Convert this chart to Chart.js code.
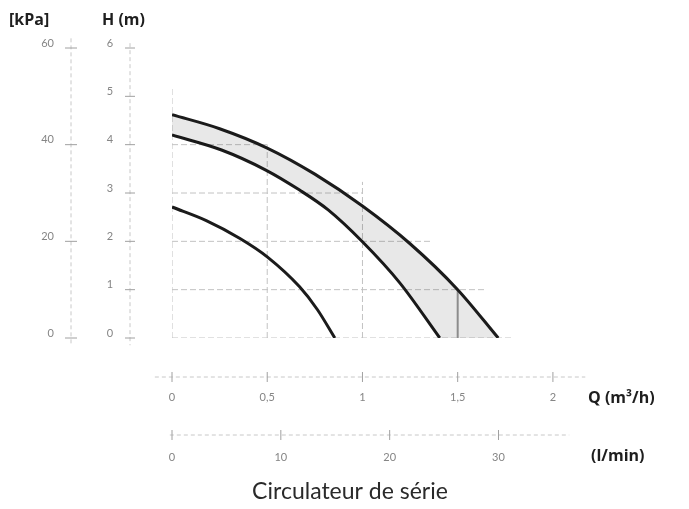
<!DOCTYPE html>
<html>
<head>
<meta charset="utf-8">
<script src="https://cdn.jsdelivr.net/npm/chart.js@4/dist/chart.umd.min.js"></script>
<style>
  html, body { margin: 0; padding: 0; background: #fff; }
</style>
</head>
<body>
<canvas id="myChart" width="689" height="509"></canvas>
<script>
// pump curves, Q in m3/h, H in m
const qUpper = [0, 0.25, 0.5, 0.75, 1.0, 1.25, 1.5, 1.713];
const hUpper = [4.62, 4.33, 3.93, 3.39, 2.73, 1.95, 1.0, 0];
const qMid   = [0, 0.26, 0.49, 0.67, 0.82, 1.0, 1.196, 1.406];
const hMid   = [4.2, 3.89, 3.48, 3.06, 2.65, 1.99, 1.14, 0];
const qLow   = [0, 0.18, 0.357, 0.5, 0.67, 0.763, 0.855];
const hLow   = [2.71, 2.43, 2.06, 1.68, 1.06, 0.59, 0];

// partial grid lines
const gridH    = [1, 2, 3, 4];
const gridHEnd = [1.65, 1.37, 1.0, 0.5];
const gridQ    = [0, 0.5, 1.0];
const gridQEnd = [5.2, 4.0, 3.23];
const markQ = 1.5, markQEnd = 1.0;

// axis ticks
const kpaTicks  = [0, 20, 40, 60];
const hTicks    = [0, 1, 2, 3, 4, 5, 6];
const qTicks    = [0, 0.5, 1, 1.5, 2];
const qLabels   = ['0', '0,5', '1', '1,5', '2'];
const lminTicks = [0, 10, 20, 30];

const pts = (xs, ys) => xs.map((x, i) => ({x: x, y: ys[i]}));

const curve = (xs, ys) => ({
    data: pts(xs, ys),
    borderColor: '#1b1b1b',
    borderWidth: 3,
    pointRadius: 0,
    cubicInterpolationMode: 'monotone',
    fill: false
});

const gridLine = (data, color, width, dash) => ({
    data: data,
    borderColor: color,
    borderWidth: width,
    borderDash: dash,
    pointRadius: 0,
    tension: 0,
    fill: false
});

// lower edge of the shaded band: the middle curve carried on a little below H = 0
// (hidden by the chart area clip) and then across to the end of the upper curve
const n = qMid.length;
const drop = 0.3;
const tailQ = qMid[n - 1] + drop * (qMid[n - 1] - qMid[n - 2]) / (hMid[n - 2] - hMid[n - 1]);
const bandEdge = pts(qMid, hMid).concat([
    {x: tailQ, y: -drop},
    {x: qUpper[qUpper.length - 1] + 0.05, y: -drop}
]);

const datasets = [];
const upper = curve(qUpper, hUpper);
upper.fill = 3;
upper.backgroundColor = 'rgba(0,0,0,0.09)';
datasets.push(upper);
datasets.push(curve(qMid, hMid));
datasets.push(curve(qLow, hLow));
datasets.push({
    data: bandEdge,
    borderColor: 'transparent',
    pointRadius: 0,
    cubicInterpolationMode: 'monotone',
    fill: false
});
gridH.forEach((h, i) => {
    datasets.push(gridLine([{x: 0, y: h}, {x: gridHEnd[i], y: h}], '#c2c2c2', 1, [6, 3]));
});
gridQ.forEach((q, i) => {
    datasets.push(gridLine([{x: q, y: 0}, {x: q, y: gridQEnd[i]}], '#c2c2c2', 1, [6, 3]));
});
datasets.push(gridLine([{x: 0, y: 0}, {x: 1.78, y: 0}], '#c2c2c2', 1, [6, 3]));
datasets.push(gridLine([{x: markQ, y: 0}, {x: markQ, y: markQEnd}], '#9a9a9a', 2, []));

const pumpAxes = {
    id: 'pumpAxes',
    afterDraw(chart) {
        const ctx = chart.ctx;
        const qs = chart.scales.x, hs = chart.scales.y;
        const ks = chart.scales.kpa, ls = chart.scales.lmin;
        const kx = 71, hx = 130, qy = 377, ly = 435;

        const seg = (x1, y1, x2, y2) => {
            ctx.beginPath(); ctx.moveTo(x1, y1); ctx.lineTo(x2, y2); ctx.stroke();
        };

        ctx.save();
        // axis lines
        ctx.strokeStyle = '#c8c8c8';
        ctx.lineWidth = 1;
        ctx.setLineDash([4, 3]);
        seg(kx, ks.getPixelForValue(62), kx, ks.getPixelForValue(-1.5));
        seg(hx, hs.getPixelForValue(6.1), hx, hs.getPixelForValue(-0.15));
        seg(qs.getPixelForValue(-0.09), qy, qs.getPixelForValue(2.17), qy);
        seg(ls.getPixelForValue(-0.2), ly, ls.getPixelForValue(36.5), ly);

        // tick marks
        ctx.setLineDash([]);
        ctx.strokeStyle = '#a0a0a0';
        kpaTicks.forEach(v => { const y = ks.getPixelForValue(v); seg(kx - 6, y, kx + 6, y); });
        hTicks.forEach(v => { const y = hs.getPixelForValue(v); seg(hx - 5, y, hx + 5, y); });
        qTicks.forEach(v => { const x = qs.getPixelForValue(v); seg(x, qy - 5, x, qy + 5); });
        lminTicks.forEach(v => { const x = ls.getPixelForValue(v); seg(x, ly - 5, x, ly + 5); });

        // tick labels
        ctx.fillStyle = '#858585';
        ctx.font = '11px Lato';
        ctx.textBaseline = 'middle';
        ctx.textAlign = 'right';
        kpaTicks.forEach(v => ctx.fillText(String(v), 54, ks.getPixelForValue(v) - 5));
        ctx.textAlign = 'center';
        hTicks.forEach(v => ctx.fillText(String(v), 110, hs.getPixelForValue(v) - 5));
        qTicks.forEach((v, i) => ctx.fillText(qLabels[i], qs.getPixelForValue(v), 397));
        lminTicks.forEach(v => ctx.fillText(String(v), ls.getPixelForValue(v), 457));

        // axis titles
        ctx.fillStyle = '#1e1e1e';
        ctx.font = 'bold 16px "Open Sans"';
        ctx.textAlign = 'left';
        ctx.fillText('[kPa]', 9, 20);
        ctx.fillText('H (m)', 102, 20);
        ctx.fillText('Q (m\u00b3/h)', 588, 398);
        ctx.fillText('(l/min)', 591, 456);

        // caption
        ctx.fillStyle = '#2a2a2a';
        ctx.font = '23px Lato';
        ctx.textAlign = 'center';
        ctx.fillText('Circulateur de s\u00e9rie', 350, 492);
        ctx.restore();
    }
};

new Chart(document.getElementById('myChart'), {
    type: 'line',
    data: { datasets: datasets },
    options: {
        responsive: false,
        animation: false,
        layout: { padding: { left: 172, right: 98, top: 48, bottom: 171 } },
        scales: {
            x: { type: 'linear', min: 0, max: 2.2, display: false },
            y: { type: 'linear', min: 0, max: 6, display: false },
            kpa: { type: 'linear', axis: 'y', min: 0, max: 60, display: false },
            lmin: { type: 'linear', axis: 'x', min: 0, max: 38.5, display: false }
        },
        plugins: {
            legend: { display: false },
            tooltip: { enabled: false }
        }
    },
    plugins: [pumpAxes]
});
</script>
</body>
</html>
